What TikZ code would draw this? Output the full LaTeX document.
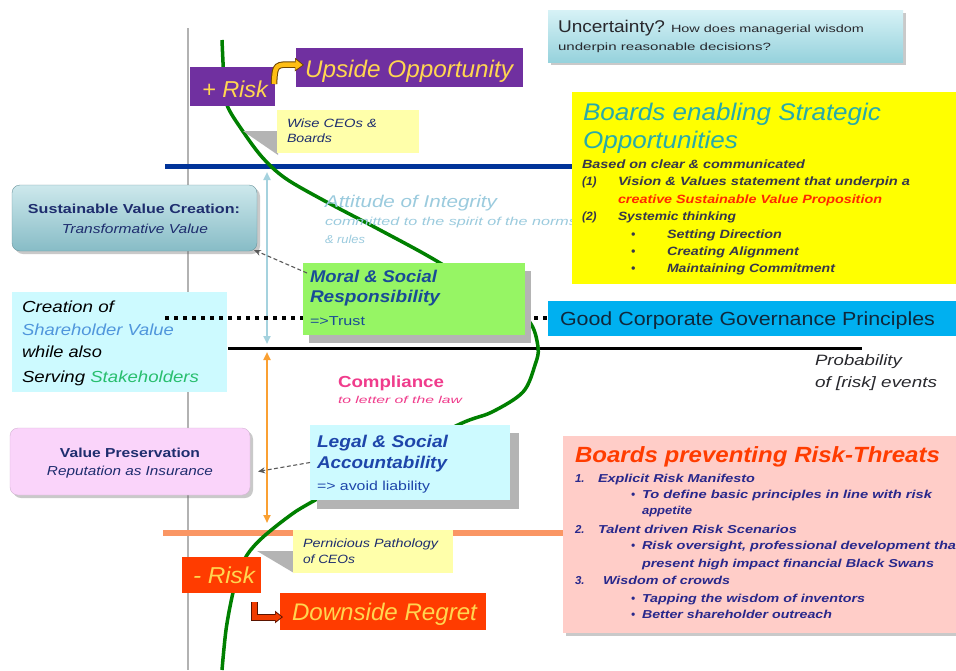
\documentclass[tikz,border=0pt]{standalone}
\usepackage{fontspec}
\usepackage{graphicx}
\setmainfont{Liberation Sans}
\usetikzlibrary{arrows.meta,shadows,calc}
\definecolor{purp}{RGB}{112,48,160}
\definecolor{gold}{RGB}{255,214,80}
\definecolor{goldarr}{RGB}{255,190,20}
\definecolor{goldedge}{RGB}{110,70,0}
\definecolor{navyl}{RGB}{0,51,153}
\definecolor{salmon}{RGB}{250,150,100}
\definecolor{skyarr}{RGB}{165,210,222}
\definecolor{orarr}{RGB}{250,160,50}
\definecolor{curveg}{RGB}{0,128,0}
\definecolor{paley}{RGB}{255,255,170}
\definecolor{txtnavy}{RGB}{30,45,110}
\definecolor{teal1}{RGB}{215,242,246}
\definecolor{teal2}{RGB}{150,210,220}
\definecolor{sus1}{RGB}{205,232,236}
\definecolor{sus2}{RGB}{135,188,198}
\definecolor{ybox}{RGB}{255,255,0}
\definecolor{ytitle}{RGB}{40,170,170}
\definecolor{ytxt}{RGB}{55,55,75}
\definecolor{redtxt}{RGB}{255,40,0}
\definecolor{integ}{RGB}{155,203,222}
\definecolor{mgreen}{RGB}{150,245,100}
\definecolor{mtxt}{RGB}{25,75,150}
\definecolor{cyanbox}{RGB}{205,250,255}
\definecolor{shblue}{RGB}{80,150,220}
\definecolor{stgreen}{RGB}{40,190,110}
\definecolor{gcgp}{RGB}{0,176,240}
\definecolor{gcgptxt}{RGB}{15,40,60}
\definecolor{compl}{RGB}{240,60,140}
\definecolor{vpbox}{RGB}{250,212,250}
\definecolor{ltxt}{RGB}{30,70,170}
\definecolor{pinkbox}{RGB}{255,205,200}
\definecolor{ptitle}{RGB}{255,60,0}
\definecolor{ptxt}{RGB}{40,40,140}
\definecolor{nriskc}{RGB}{255,60,0}
\definecolor{redarr}{RGB}{240,60,0}
\definecolor{redarredge}{RGB}{90,20,0}
\definecolor{shadowg}{RGB}{180,180,180}
\definecolor{darktxt}{RGB}{40,40,45}
\newcommand\myfs[1]{\fontsize{#1}{#1}\selectfont}
\newcommand\fw[2]{\resizebox{#1pt}{\height}{#2}}
\tikzset{
  boxn/.style={inner sep=0pt, outer sep=0pt, anchor=north west, draw=none},
  ln/.style={inner sep=0pt, outer sep=0pt, anchor=base west},
  lcn/.style={inner sep=0pt, outer sep=0pt, anchor=base},
  dashc/.style={draw=black!65, line width=1.1pt, dash pattern=on 4pt off 2.5pt, -{Stealth[length=7pt,width=6pt]}},
  softshadow/.style={drop shadow={shadow xshift=3pt, shadow yshift=-3pt, opacity=0.35, fill=black!60}},
  bitxt/.style={font=\myfs{#1}\bfseries\itshape},
  itxt/.style={font=\myfs{#1}\itshape},
}
\begin{document}
\begin{tikzpicture}[x=1pt,y=-1pt]
\useasboundingbox[fill=white] (0,0) rectangle (956,670);

% axis and horizontal lines
\draw[gray!60, line width=2.5pt] (188,28) -- (188,670);
\draw[navyl, line width=5pt] (165,166) -- (580,166);
\draw[black, line width=3pt] (228,348) -- (862,348);
\draw[salmon, line width=6pt] (163,533) -- (565,533);

% vertical double arrows
\coordinate (ba) at (267,172);
\coordinate (bb) at (267,344);
\coordinate (oa) at (267,352);
\coordinate (ob) at (267,523);
\draw[skyarr, line width=2pt, {Triangle[length=8pt,width=7pt]}-{Triangle[length=8pt,width=7pt]}] (ba) -- (bb);
\draw[orarr, line width=2pt, {Triangle[length=8pt,width=7pt]}-{Triangle[length=8pt,width=7pt]}] (oa) -- (ob);

% S curve
\draw[curveg, line width=3.5pt] plot[smooth, tension=0.55] coordinates {
(222,40) (224,80) (227,105) (242,130) (262,157) (285,178) (323,200) (380,230)
(435,260) (490,295) (528,320) (538,347) (535,365) (523,392) (492,412) (460,424)
(385,462) (310,503) (288,517) (262,538) (247,555) (238,575) (232,597) (226,630) (222,670)};

% gray callout wedges
\fill[shadowg] (243,131) -- (278,131) -- (278,155) -- cycle;
\fill[shadowg] (257,551) -- (294,551) -- (294,573) -- cycle;

% top-left boxes
\node[boxn, fill=purp, minimum width=85pt, minimum height=39pt] (prisk) at (190,67) {};
\node[boxn, fill=purp, minimum width=227pt, minimum height=39pt] (upside) at (296,48) {};
\node[ln, itxt=23, text=gold] (prisktxt) at (202,97) {\fw{66}{+ Risk}};
\node[ln, itxt=24, text=gold] (upsidetxt) at (305,77) {\fw{208}{Upside Opportunity}};

\node[boxn, fill=paley, minimum width=142pt, minimum height=43pt] (wise) at (277,110) {};
\node[ln, itxt=12, text=txtnavy] (wise1) at (287,127) {\fw{90}{Wise CEOs \&}};
\node[ln, itxt=12, text=txtnavy] (wise2) at (287,142) {\fw{45}{Boards}};

% gold curved arrow
\coordinate (ga) at (274,84);
\coordinate (gc) at (304,65);
\draw[goldedge, line width=6.5pt, -{Triangle[length=9pt,width=13pt]}] (ga) .. controls (275,64) .. (gc);
\draw[goldarr, line width=4.5pt, -{Triangle[length=7pt,width=10pt]}] (ga) .. controls (275,64) .. ([xshift=-1.5pt]gc);

% uncertainty box
\node[boxn, top color=teal1, bottom color=teal2, minimum width=355pt, minimum height=52pt, softshadow] (unc) at (548,10) {};
\node[ln, font=\myfs{17}, text=darktxt] (unc1) at (558,32) {\fw{107}{Uncertainty?}};
\node[ln, font=\myfs{10.5}, text=darktxt] (unc2) at (671,32) {\fw{193}{How does managerial wisdom}};
\node[ln, font=\myfs{10.5}, text=darktxt] (unc3) at (558,50) {\fw{213}{underpin reasonable decisions?}};

% attitude text (under yellow box)
\node[ln, itxt=17, text=integ] (att1) at (325,207) {\fw{172}{Attitude of Integrity}};
\node[ln, itxt=11.5, text=integ] (att2) at (325,225) {\fw{252}{committed to the spirit of the norms}};
\node[ln, itxt=11.5, text=integ] (att3) at (325,243) {\fw{40}{\& rules}};

% yellow box
\node[boxn, fill=ybox, minimum width=384pt, minimum height=192pt] (ybx) at (572,92) {};
\node[ln, itxt=24, text=ytitle] (yt1) at (583,120) {\fw{298}{Boards enabling Strategic}};
\node[ln, itxt=24, text=ytitle] (yt2) at (583,148) {\fw{155}{Opportunities}};
\node[ln, bitxt=12, text=ytxt] (yl1) at (582,168) {\fw{223}{Based on clear \& communicated}};
\node[ln, bitxt=12, text=ytxt] (yl2a) at (582,185) {(1)};
\node[ln, bitxt=12, text=ytxt] (yl2) at (618,185) {\fw{292}{Vision \& Values statement that underpin a}};
\node[ln, bitxt=12, text=redtxt] (yl3) at (618,203) {\fw{264}{creative Sustainable Value Proposition}};
\node[ln, bitxt=12, text=ytxt] (yl4a) at (582,220) {(2)};
\node[ln, bitxt=12, text=ytxt] (yl4) at (618,220) {\fw{118}{Systemic thinking}};
\node[ln, bitxt=12, text=ytxt] (yb1) at (631,238) {•};
\node[ln, bitxt=12, text=ytxt] (yb2) at (631,255) {•};
\node[ln, bitxt=12, text=ytxt] (yb3) at (631,272) {•};
\node[ln, bitxt=12, text=ytxt] (yl5) at (667,238) {\fw{115}{Setting Direction}};
\node[ln, bitxt=12, text=ytxt] (yl6) at (667,255) {\fw{132}{Creating Alignment}};
\node[ln, bitxt=12, text=ytxt] (yl7) at (667,272) {\fw{168}{Maintaining Commitment}};

% sustainable value creation
\node[boxn, rounded corners=8pt, top color=sus1, bottom color=sus2, draw=sus2!80!black, line width=0.4pt, minimum width=245pt, minimum height=66pt, softshadow] (sust) at (12,185) {};
\node[lcn, font=\myfs{13}\bfseries, text=txtnavy] (sust1) at (134,213) {\fw{212}{Sustainable Value Creation:}};
\node[lcn, itxt=13, text=txtnavy] (sust2) at (135,233) {\fw{146}{Transformative Value}};

% creation of shareholder value
\node[boxn, fill=cyanbox, minimum width=215pt, minimum height=100pt] (creat) at (12,292) {};
\node[ln, itxt=16, text=black] (cr1) at (22,312) {\fw{92}{Creation of}};
\node[ln, itxt=16, text=shblue] (cr2) at (22,335) {\fw{152}{Shareholder Value}};
\node[ln, itxt=16, text=black] (cr3) at (22,357) {\fw{80}{while also}};
\node[ln, itxt=16, text=black] (cr4) at (22,382) {\fw{177}{Serving \textcolor{stgreen}{Stakeholders}}};

% dotted line (over creation box, under moral box)
\draw[black, line width=4pt, dash pattern=on 4pt off 5pt] (165,318) -- (548,318);

% moral box
\fill[shadowg] (309,271) rectangle (531,343);
\node[boxn, fill=mgreen, minimum width=222pt, minimum height=72pt] (moral) at (303,263) {};
\node[ln, bitxt=17, text=mtxt] (mo1) at (310,282) {\fw{127}{Moral \& Social}};
\node[ln, bitxt=17, text=mtxt] (mo2) at (310,302) {\fw{130}{Responsibility}};
\node[ln, font=\myfs{13}, text=mtxt] (mo3) at (310,325) {\fw{55}{=>Trust}};

% good corporate governance
\node[boxn, fill=gcgp, minimum width=408pt, minimum height=35pt] (gcg) at (548,301) {};
\node[ln, font=\myfs{19}, text=gcgptxt] (gcgt) at (560,325) {\fw{375}{Good Corporate Governance Principles}};

% probability
\node[ln, itxt=15, text=darktxt] (prob1) at (815,365) {\fw{87}{Probability}};
\node[ln, itxt=15, text=darktxt] (prob2) at (815,387) {\fw{122}{of [risk] events}};

% compliance
\node[ln, font=\myfs{16}\bfseries, text=compl] (comp1) at (338,387) {\fw{106}{Compliance}};
\node[ln, itxt=10, text=compl] (comp2) at (338,403) {\fw{124}{to letter of the law}};

% value preservation
\node[boxn, rounded corners=8pt, fill=vpbox, draw=vpbox!85!black, line width=0.4pt, minimum width=240pt, minimum height=67pt, softshadow] (valp) at (10,428) {};
\node[lcn, font=\myfs{13}\bfseries, text=txtnavy] (vp1) at (130,457) {\fw{140}{Value Preservation}};
\node[lcn, itxt=13, text=txtnavy] (vp2) at (130,475) {\fw{166}{Reputation as Insurance}};

% legal box
\fill[shadowg] (317,433) rectangle (519,509);
\node[boxn, fill=cyanbox, minimum width=200pt, minimum height=75pt] (legal) at (310,425) {};
\node[ln, bitxt=17, text=ltxt] (le1) at (317,447) {\fw{131}{Legal \& Social}};
\node[ln, bitxt=17, text=ltxt] (le2) at (317,468) {\fw{130}{Accountability}};
\node[ln, font=\myfs{13}, text=ltxt] (le3) at (317,490) {\fw{113}{=> avoid liability}};

% pink box
\node[boxn, fill=pinkbox, minimum width=393pt, minimum height=197pt, softshadow] (pink) at (563,436) {};
\node[ln, bitxt=22, text=ptitle] (pt) at (575,462) {\fw{365}{Boards preventing Risk-Threats}};
\node[ln, bitxt=11.5, text=ptxt] (p1n) at (575,482) {1.};
\node[ln, bitxt=11.5, text=ptxt] (p1) at (598,482) {\fw{157}{Explicit Risk Manifesto}};
\node[ln, bitxt=11.5, text=ptxt] (p1b) at (631,498) {•};
\node[ln, bitxt=11.5, text=ptxt] (p1t) at (642,498) {\fw{290}{To define basic principles in line with risk}};
\node[ln, bitxt=11.5, text=ptxt] (p1u) at (642,514) {\fw{50}{appetite}};
\node[ln, bitxt=11.5, text=ptxt] (p2n) at (575,533) {2.};
\node[ln, bitxt=11.5, text=ptxt] (p2) at (598,533) {\fw{199}{Talent driven Risk Scenarios}};
\node[ln, bitxt=11.5, text=ptxt] (p2b) at (631,549) {•};
\node[ln, bitxt=11.5, text=ptxt] (p2t) at (642,549) {\fw{314}{Risk oversight, professional development tha}};
\node[ln, bitxt=11.5, text=ptxt] (p2u) at (642,567) {\fw{292}{present high impact financial Black Swans}};
\node[ln, bitxt=11.5, text=ptxt] (p3n) at (575,584) {3.};
\node[ln, bitxt=11.5, text=ptxt] (p3) at (603,584) {\fw{127}{Wisdom of crowds}};
\node[ln, bitxt=11.5, text=ptxt] (p3b1) at (631,602) {•};
\node[ln, bitxt=11.5, text=ptxt] (p3t1) at (642,602) {\fw{223}{Tapping the wisdom of inventors}};
\node[ln, bitxt=11.5, text=ptxt] (p3b2) at (631,618) {•};
\node[ln, bitxt=11.5, text=ptxt] (p3t2) at (642,618) {\fw{190}{Better shareholder outreach}};

% pernicious
\node[boxn, fill=paley, minimum width=160pt, minimum height=43pt] (pern) at (293,530) {};
\node[ln, itxt=12, text=txtnavy] (pe1) at (303,547) {\fw{135}{Pernicious Pathology}};
\node[ln, itxt=12, text=txtnavy] (pe2) at (303,563) {\fw{52}{of CEOs}};

% - risk and downside
\node[boxn, fill=nriskc, minimum width=79pt, minimum height=36pt] (nrisk) at (182,557) {};
\node[ln, itxt=23, text=gold] (nrisktxt) at (193,583) {\fw{62}{- Risk}};
\node[boxn, fill=nriskc, minimum width=206pt, minimum height=37pt] (down) at (280,593) {};
\node[ln, itxt=24, text=gold] (downtxt) at (292,620) {\fw{185}{Downside Regret}};

% red elbow arrow
\coordinate (ra) at (254,602);
\coordinate (rc) at (283,617);
\draw[redarredge, line width=7pt, -{Triangle[length=8pt,width=12pt]}] (ra) |- (rc);
\draw[redarr, line width=5pt, -{Triangle[length=6pt,width=9pt]}] (ra) |- ([xshift=-1.5pt]rc);

% dashed connectors
\draw[dashc] ($(moral.north west)+(4,10)$) -- ($(sust.south east)+(-3,-1)$);
\draw[dashc] (legal.west) -- ($(valp.east)+(8,10)$);
\end{tikzpicture}
\end{document}
